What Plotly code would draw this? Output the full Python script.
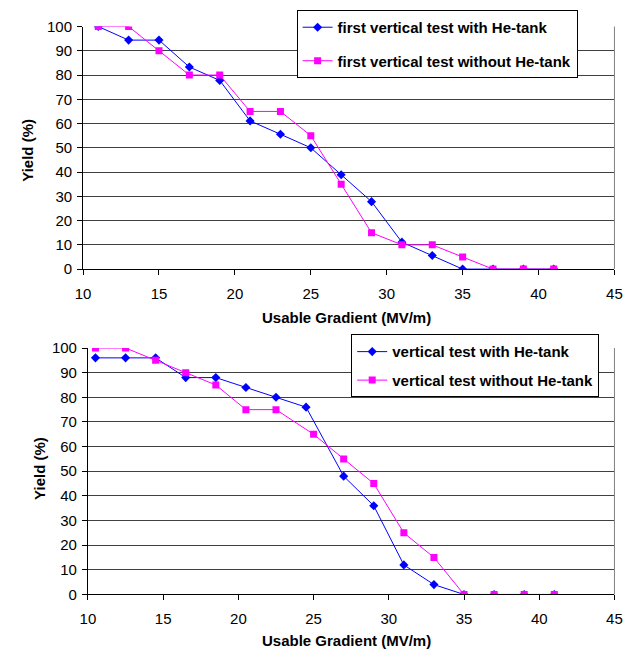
import plotly.graph_objects as go

# ---------------- data ----------------
top_x = [11, 13, 15, 17, 19, 21, 23, 25, 27, 29, 31, 33, 35, 37, 39, 41]
top_with_he = [100, 94.4, 94.4, 83.3, 77.8, 61.1, 55.6, 50.0, 38.9, 27.8, 11.1, 5.6, 0, 0, 0, 0]
top_without_he = [100, 100, 90, 80, 80, 65, 65, 55, 35, 15, 10, 10, 5, 0, 0, 0]

bot_x_with = [10.5, 12.5, 14.5, 16.5, 18.5, 20.5, 22.5, 24.5, 27, 29, 31, 33, 35, 37, 39, 41]
bot_with_he = [96, 96, 96, 88, 88, 84, 80, 76, 48, 36, 12, 4, 0, 0, 0, 0]
bot_x_without = [10.5, 12.5, 14.5, 16.5, 18.5, 20.5, 22.5, 25, 27, 29, 31, 33, 35, 37, 39, 41]
bot_without_he = [100, 100, 95, 90, 85, 75, 75, 65, 55, 45, 25, 15, 0, 0, 0, 0]

x_ticks = [10, 15, 20, 25, 30, 35, 40, 45]
y_ticks = [0, 10, 20, 30, 40, 50, 60, 70, 80, 90, 100]

names_top = ["first vertical test with He-tank", "first vertical test without He-tank"]
names_bot = ["vertical test with He-tank", "vertical test without He-tank"]
x_title = "Usable Gradient (MV/m)"
y_title = "Yield (%)"

BLUE = "#0000FF"
MAGENTA = "#FF00FF"
FONT = "Liberation Sans, Arial, sans-serif"

W, H = 640, 658

def px(x):
    return x / W

def py(y):
    return 1 - y / H

fig = go.Figure()

fig.add_trace(go.Scatter(x=top_x, y=top_with_he, name=names_top[0], mode="lines+markers",
                         line=dict(color=BLUE, width=1),
                         marker=dict(symbol="diamond", size=7, color=BLUE),
                         xaxis="x", yaxis="y", legend="legend", legendgroup="a"))
fig.add_trace(go.Scatter(x=top_x, y=top_without_he, name=names_top[1], mode="lines+markers",
                         line=dict(color=MAGENTA, width=1),
                         marker=dict(symbol="square", size=7, color=MAGENTA),
                         xaxis="x", yaxis="y", legend="legend", legendgroup="b"))
fig.add_trace(go.Scatter(x=bot_x_with, y=bot_with_he, name=names_bot[0], mode="lines+markers",
                         line=dict(color=BLUE, width=1),
                         marker=dict(symbol="diamond", size=7, color=BLUE),
                         xaxis="x2", yaxis="y2", legend="legend2", legendgroup="c"))
fig.add_trace(go.Scatter(x=bot_x_without, y=bot_without_he, name=names_bot[1], mode="lines+markers",
                         line=dict(color=MAGENTA, width=1),
                         marker=dict(symbol="square", size=7, color=MAGENTA),
                         xaxis="x2", yaxis="y2", legend="legend2", legendgroup="d"))

axis_common_x = dict(range=[10, 45], tickvals=x_ticks, showgrid=False, zeroline=False,
                     showline=True, linecolor="black", linewidth=1,
                     ticks="outside", ticklen=5, tickcolor="black",
                     tickfont=dict(family=FONT, size=15, color="black"),
                     ticklabelstandoff=6)
axis_common_y = dict(range=[0, 100], tickvals=y_ticks, showgrid=True, gridcolor="#404040",
                     gridwidth=1, zeroline=False,
                     showline=True, linecolor="black", linewidth=1,
                     ticks="outside", ticklen=5, tickcolor="black",
                     tickfont=dict(family=FONT, size=15, color="black"),
                     ticklabelstandoff=2)

legend_common = dict(bgcolor="white", bordercolor="black", borderwidth=1,
                     font=dict(family=FONT, size=15, color="black", weight="bold"),
                     xanchor="left", yanchor="top", traceorder="grouped",
                     itemwidth=30)

fig.update_layout(
    width=W, height=H,
    margin=dict(l=0, r=0, t=0, b=0),
    paper_bgcolor="white", plot_bgcolor="white",
    xaxis=dict(domain=[px(77), px(622)], anchor="y", **axis_common_x),
    yaxis=dict(domain=[py(267), py(18)], anchor="x", **axis_common_y),
    xaxis2=dict(domain=[px(82), px(622)], anchor="y2", **axis_common_x),
    yaxis2=dict(domain=[py(601), py(348)], anchor="x2", **axis_common_y),
    legend=dict(x=px(296), y=py(1), tracegroupgap=11, **legend_common),
    legend2=dict(x=px(352), y=py(334), tracegroupgap=6, **legend_common),
    font=dict(family=FONT, color="black"),
    showlegend=True,
)

# right-hand plot-area borders (grey)
for xr, yr in (("x domain", "y domain"), ("x2 domain", "y2 domain")):
    fig.add_shape(type="line", xref=xr, yref=yr, x0=1, x1=1, y0=0, y1=1,
                  line=dict(color="#808080", width=1))

title_font = dict(family=FONT, size=15, color="black", weight="bold")
fig.add_annotation(text=x_title, xref="paper", yref="paper", x=px(347), y=py(317),
                   showarrow=False, font=title_font, xanchor="center", yanchor="middle")
fig.add_annotation(text=x_title, xref="paper", yref="paper", x=px(347), y=py(648),
                   showarrow=False, font=title_font, xanchor="center", yanchor="middle")
fig.add_annotation(text=y_title, xref="paper", yref="paper", x=px(20), y=py(145),
                   showarrow=False, font=title_font, textangle=-90,
                   xanchor="center", yanchor="middle")
fig.add_annotation(text=y_title, xref="paper", yref="paper", x=px(33), y=py(472),
                   showarrow=False, font=title_font, textangle=-90,
                   xanchor="center", yanchor="middle")

fig.write_html("out.html")
